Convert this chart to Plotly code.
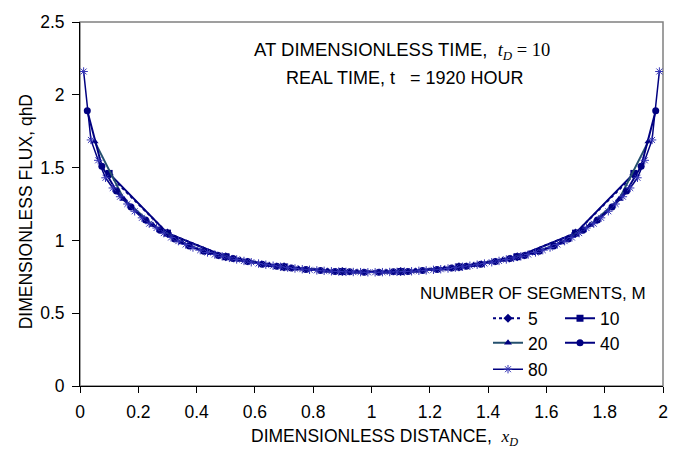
import plotly.graph_objects as go

# ---- data ----
x_m5 = [0.1, 0.3, 0.5, 0.7, 0.9, 1.1, 1.3, 1.5, 1.7, 1.9]
q_m5 = [1.45, 1.05, 0.888, 0.818, 0.786, 0.786, 0.818, 0.888, 1.05, 1.45]

x_m10 = [0.1, 0.3, 0.5, 0.7, 0.9, 1.1, 1.3, 1.5, 1.7, 1.9]
q_m10 = [1.46, 1.05, 0.888, 0.818, 0.786, 0.786, 0.818, 0.888, 1.05, 1.46]

x_m20 = [0.05, 0.15, 0.25, 0.35, 0.45, 0.55, 0.65, 0.75, 0.85, 0.95,
         1.05, 1.15, 1.25, 1.35, 1.45, 1.55, 1.65, 1.75, 1.85, 1.95]
q_m20 = [1.68, 1.285, 1.105, 0.985, 0.911, 0.865, 0.830, 0.805, 0.790, 0.783,
         0.783, 0.790, 0.805, 0.830, 0.865, 0.911, 0.985, 1.105, 1.285, 1.68]

x_m40 = [0.025, 0.075, 0.125, 0.175, 0.225, 0.275, 0.325, 0.375, 0.425, 0.475,
         0.525, 0.575, 0.625, 0.675, 0.725, 0.775, 0.825, 0.875, 0.925, 0.975,
         1.025, 1.075, 1.125, 1.175, 1.225, 1.275, 1.325, 1.375, 1.425, 1.475,
         1.525, 1.575, 1.625, 1.675, 1.725, 1.775, 1.825, 1.875, 1.925, 1.975]
q_m40 = [1.89, 1.51, 1.34, 1.23, 1.14, 1.07, 1.01, 0.962, 0.925, 0.897,
         0.875, 0.855, 0.837, 0.823, 0.810, 0.800, 0.793, 0.787, 0.784, 0.782,
         0.782, 0.784, 0.787, 0.793, 0.800, 0.810, 0.823, 0.837, 0.855, 0.875,
         0.897, 0.925, 0.962, 1.01, 1.07, 1.14, 1.23, 1.34, 1.51, 1.89]

x_m80 = [0.0125, 0.0375, 0.0625, 0.0875, 0.1125, 0.1375, 0.1625, 0.1875, 0.2125, 0.2375,
         0.2625, 0.2875, 0.3125, 0.3375, 0.3625, 0.3875, 0.4125, 0.4375, 0.4625, 0.4875,
         0.5125, 0.5375, 0.5625, 0.5875, 0.6125, 0.6375, 0.6625, 0.6875, 0.7125, 0.7375,
         0.7625, 0.7875, 0.8125, 0.8375, 0.8625, 0.8875, 0.9125, 0.9375, 0.9625, 0.9875,
         1.0125, 1.0375, 1.0625, 1.0875, 1.1125, 1.1375, 1.1625, 1.1875, 1.2125, 1.2375,
         1.2625, 1.2875, 1.3125, 1.3375, 1.3625, 1.3875, 1.4125, 1.4375, 1.4625, 1.4875,
         1.5125, 1.5375, 1.5625, 1.5875, 1.6125, 1.6375, 1.6625, 1.6875, 1.7125, 1.7375,
         1.7625, 1.7875, 1.8125, 1.8375, 1.8625, 1.8875, 1.9125, 1.9375, 1.9625, 1.9875]
q_m80 = [2.16, 1.69, 1.55, 1.43, 1.36, 1.30, 1.25, 1.20, 1.155, 1.115,
         1.085, 1.05, 1.02, 0.995, 0.972, 0.951, 0.933, 0.917, 0.903, 0.891,
         0.880, 0.869, 0.859, 0.850, 0.841, 0.833, 0.826, 0.819, 0.813, 0.807,
         0.802, 0.798, 0.794, 0.791, 0.788, 0.786, 0.784, 0.783, 0.782, 0.781,
         0.781, 0.782, 0.783, 0.784, 0.786, 0.788, 0.791, 0.794, 0.798, 0.802,
         0.807, 0.813, 0.819, 0.826, 0.833, 0.841, 0.850, 0.859, 0.869, 0.880,
         0.891, 0.903, 0.917, 0.933, 0.951, 0.972, 0.995, 1.02, 1.05, 1.085,
         1.115, 1.155, 1.20, 1.25, 1.30, 1.36, 1.43, 1.55, 1.69, 2.16]

x_ticks = [0, 0.2, 0.4, 0.6, 0.8, 1, 1.2, 1.4, 1.6, 1.8, 2]
y_ticks = [0, 0.5, 1, 1.5, 2, 2.5]

NAVY = "#000080"
FONT = "Liberation Sans, Arial, sans-serif"
SERIF = "Liberation Serif, Times New Roman, serif"
FS = 17.5

fig = go.Figure()

fig.add_trace(go.Scatter(
    x=x_m5, y=q_m5, name="5", mode="lines+markers", legend="legend",
    line=dict(color=NAVY, width=2, dash="dot"),
    marker=dict(symbol="diamond", size=7, color=NAVY)))
fig.add_trace(go.Scatter(
    x=x_m10, y=q_m10, name="10", mode="lines+markers", legend="legend2",
    line=dict(color=NAVY, width=2),
    marker=dict(symbol="square", size=7, color=NAVY)))
fig.add_trace(go.Scatter(
    x=x_m20, y=q_m20, name="20", mode="lines+markers", legend="legend3",
    line=dict(color="#24506e", width=2),
    marker=dict(symbol="triangle-up", size=7, color=NAVY)))
fig.add_trace(go.Scatter(
    x=x_m40, y=q_m40, name="40", mode="lines+markers", legend="legend4",
    line=dict(color=NAVY, width=2),
    marker=dict(symbol="circle", size=7, color=NAVY)))
fig.add_trace(go.Scatter(
    x=x_m80, y=q_m80, name="80", mode="lines+markers", legend="legend5",
    line=dict(color=NAVY, width=1.5),
    marker=dict(symbol="asterisk-open", size=7, color="#3535b5",
                line=dict(width=1, color="#3535b5"))))

L, R, T, B = 80, 18, 15, 74
W, H = 681, 460
PW, PH = W - L - R, H - T - B


def px(xp):
    return (xp - L) / PW


def py(yp):
    return (H - B - yp) / PH


leg_common = dict(orientation="h", font=dict(family=FONT, size=FS, color="#000"),
                  bgcolor="rgba(0,0,0,0)", borderwidth=0, xanchor="left",
                  yanchor="middle", itemwidth=30, visible=True)

fig.update_layout(
    width=W, height=H,
    margin=dict(l=L, r=R, t=T, b=B),
    paper_bgcolor="white", plot_bgcolor="white",
    showlegend=True,
    font=dict(family=FONT, size=FS, color="#000"),
    legend=dict(x=px(488), y=py(317), **leg_common),
    legend2=dict(x=px(560), y=py(317), **leg_common),
    legend3=dict(x=px(488), y=py(342), **leg_common),
    legend4=dict(x=px(560), y=py(342), **leg_common),
    legend5=dict(x=px(488), y=py(369), **leg_common),
    xaxis=dict(range=[0, 2], tickvals=x_ticks, ticks="outside", ticklen=6,
               tickcolor="#000", showline=True, linecolor="#000", linewidth=1,
               showgrid=False, zeroline=False, ticklabelstandoff=4,
               tickfont=dict(family=FONT, size=FS, color="#000")),
    yaxis=dict(range=[0, 2.5], tickvals=y_ticks, ticks="outside", ticklen=7,
               tickcolor="#000", showline=True, linecolor="#000", linewidth=1,
               showgrid=False, zeroline=False, ticklabelstandoff=4,
               tickfont=dict(family=FONT, size=FS, color="#000")),
    shapes=[dict(type="rect", xref="paper", yref="paper", x0=0, x1=1, y0=0, y1=1,
                 line=dict(color="#808080", width=1.5), layer="below")],
    annotations=[
        dict(xref="paper", yref="paper", x=px(252), y=py(45), xanchor="left",
             yanchor="middle", showarrow=False, font=dict(size=18.5),
             text="AT DIMENSIONLESS TIME,  "
                  f"<span style='font-family:{SERIF}'><i>t</i><sub><i>D</i></sub> = 10</span>"),
        dict(xref="paper", yref="paper", x=px(284), y=py(72), xanchor="left",
             yanchor="middle", showarrow=False, font=dict(size=18),
             text="REAL TIME, t   = 1920 HOUR"),
        dict(xref="paper", yref="paper", x=px(418), y=py(292), xanchor="left",
             yanchor="middle", showarrow=False, font=dict(size=17),
             text="NUMBER OF SEGMENTS, M"),
        dict(xref="paper", yref="paper", x=px(249), y=py(438), xanchor="left",
             yanchor="middle", showarrow=False,
             text="DIMENSIONLESS DISTANCE,  "
                  f"<span style='font-family:{SERIF}'><i>x</i><sub><i>D</i></sub></span>"),
        dict(xref="paper", yref="paper", x=px(26), y=py(209), xanchor="center",
             yanchor="middle", showarrow=False, textangle=-90,
             text="DIMENSIONLESS FLUX, qhD"),
    ],
)

fig.write_html("out.html")
